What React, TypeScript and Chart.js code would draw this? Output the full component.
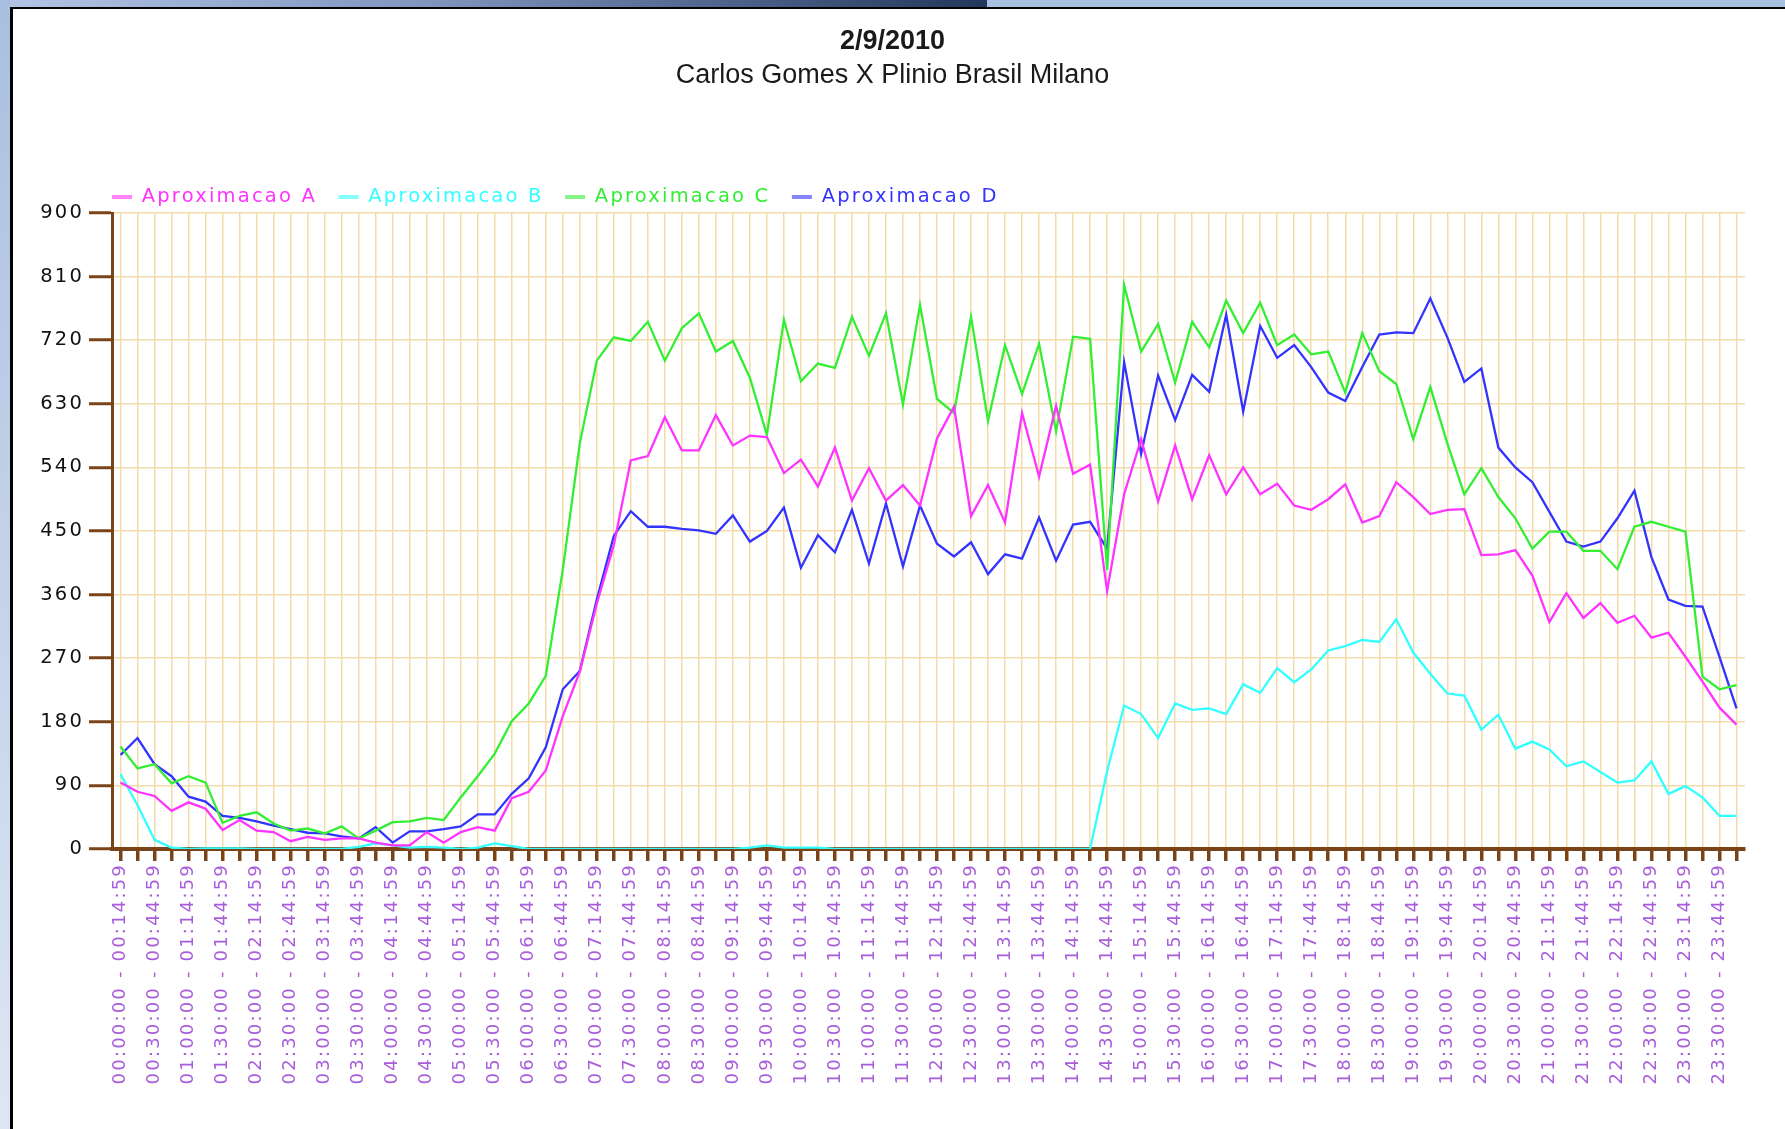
import React, { useEffect, useRef } from 'react';
import { Chart, registerables } from 'chart.js';

Chart.register(...registerables);

const TITLE = '2/9/2010';
const SUBTITLE = 'Carlos Gomes X Plinio Brasil Milano';

const SERIES_NAMES = ['Aproximacao A', 'Aproximacao B', 'Aproximacao C', 'Aproximacao D'];
const SERIES_COLORS = ['#ff33ff', '#33ffff', '#33ee33', '#3333ff'];
const LEGEND_MARK_COLORS = ['rgba(255,51,255,0.6)', 'rgba(51,255,255,0.6)', 'rgba(51,238,51,0.6)', 'rgba(51,51,255,0.6)'];

const Y_MIN = 0;
const Y_MAX = 900;
const Y_STEP = 90;

const SLOTS = [
  '00:00:00 - 00:14:59', '00:15:00 - 00:29:59', '00:30:00 - 00:44:59', '00:45:00 - 00:59:59',
  '01:00:00 - 01:14:59', '01:15:00 - 01:29:59', '01:30:00 - 01:44:59', '01:45:00 - 01:59:59',
  '02:00:00 - 02:14:59', '02:15:00 - 02:29:59', '02:30:00 - 02:44:59', '02:45:00 - 02:59:59',
  '03:00:00 - 03:14:59', '03:15:00 - 03:29:59', '03:30:00 - 03:44:59', '03:45:00 - 03:59:59',
  '04:00:00 - 04:14:59', '04:15:00 - 04:29:59', '04:30:00 - 04:44:59', '04:45:00 - 04:59:59',
  '05:00:00 - 05:14:59', '05:15:00 - 05:29:59', '05:30:00 - 05:44:59', '05:45:00 - 05:59:59',
  '06:00:00 - 06:14:59', '06:15:00 - 06:29:59', '06:30:00 - 06:44:59', '06:45:00 - 06:59:59',
  '07:00:00 - 07:14:59', '07:15:00 - 07:29:59', '07:30:00 - 07:44:59', '07:45:00 - 07:59:59',
  '08:00:00 - 08:14:59', '08:15:00 - 08:29:59', '08:30:00 - 08:44:59', '08:45:00 - 08:59:59',
  '09:00:00 - 09:14:59', '09:15:00 - 09:29:59', '09:30:00 - 09:44:59', '09:45:00 - 09:59:59',
  '10:00:00 - 10:14:59', '10:15:00 - 10:29:59', '10:30:00 - 10:44:59', '10:45:00 - 10:59:59',
  '11:00:00 - 11:14:59', '11:15:00 - 11:29:59', '11:30:00 - 11:44:59', '11:45:00 - 11:59:59',
  '12:00:00 - 12:14:59', '12:15:00 - 12:29:59', '12:30:00 - 12:44:59', '12:45:00 - 12:59:59',
  '13:00:00 - 13:14:59', '13:15:00 - 13:29:59', '13:30:00 - 13:44:59', '13:45:00 - 13:59:59',
  '14:00:00 - 14:14:59', '14:15:00 - 14:29:59', '14:30:00 - 14:44:59', '14:45:00 - 14:59:59',
  '15:00:00 - 15:14:59', '15:15:00 - 15:29:59', '15:30:00 - 15:44:59', '15:45:00 - 15:59:59',
  '16:00:00 - 16:14:59', '16:15:00 - 16:29:59', '16:30:00 - 16:44:59', '16:45:00 - 16:59:59',
  '17:00:00 - 17:14:59', '17:15:00 - 17:29:59', '17:30:00 - 17:44:59', '17:45:00 - 17:59:59',
  '18:00:00 - 18:14:59', '18:15:00 - 18:29:59', '18:30:00 - 18:44:59', '18:45:00 - 18:59:59',
  '19:00:00 - 19:14:59', '19:15:00 - 19:29:59', '19:30:00 - 19:44:59', '19:45:00 - 19:59:59',
  '20:00:00 - 20:14:59', '20:15:00 - 20:29:59', '20:30:00 - 20:44:59', '20:45:00 - 20:59:59',
  '21:00:00 - 21:14:59', '21:15:00 - 21:29:59', '21:30:00 - 21:44:59', '21:45:00 - 21:59:59',
  '22:00:00 - 22:14:59', '22:15:00 - 22:29:59', '22:30:00 - 22:44:59', '22:45:00 - 22:59:59',
  '23:00:00 - 23:14:59', '23:15:00 - 23:29:59', '23:30:00 - 23:44:59', '23:45:00 - 23:59:59',
];

const APROX_A = [
  94, 81, 75, 54, 66, 57, 27, 41, 26, 24,
  11, 17, 13, 15, 15, 9, 5, 5, 24, 9,
  24, 31, 26, 72, 81, 111, 188, 251, 347, 430,
  550, 556, 611, 564, 564, 614, 571, 585, 583, 532,
  551, 513, 568, 493, 539, 493, 515, 486, 581, 626,
  471, 515, 462, 617, 527, 627, 531, 544, 365, 502,
  580, 492, 571, 495, 557, 502, 540, 502, 517, 486,
  480, 495, 516, 462, 471, 519, 498, 474, 480, 481,
  416, 417, 423, 387, 321, 362, 327, 348, 320, 330,
  299, 306, 272, 237, 200, 176,
];

const APROX_B = [
  106, 62, 13, 2, 0, 1, 1, 1, 0, 0,
  0, 0, 0, 0, 3, 8, 5, 2, 3, 2,
  0, 2, 8, 4, 0, 0, 0, 0, 0, 0,
  0, 0, 0, 0, 0, 0, 0, 2, 5, 2,
  2, 2, 0, 0, 0, 0, 0, 0, 0, 0,
  0, 0, 0, 0, 0, 0, 0, 0, 110, 203,
  191, 157, 206, 197, 199, 191, 233, 221, 256, 236,
  254, 281, 287, 296, 293, 325, 278, 248, 220, 217,
  169, 190, 142, 152, 141, 117, 124, 109, 94, 97,
  124, 78, 89, 73, 47, 47,
];

const APROX_C = [
  145, 114, 120, 93, 103, 94, 37, 47, 52, 36,
  26, 29, 22, 32, 15, 26, 38, 39, 44, 41,
  73, 103, 135, 181, 206, 245, 395, 574, 691, 724,
  719, 746, 691, 737, 758, 704, 719, 667, 586, 749,
  662, 687, 681, 753, 698, 758, 629, 770, 637, 617,
  753, 606, 713, 644, 715, 591, 725, 722, 395, 798,
  704, 743, 660, 746, 710, 776, 730, 773, 713, 728,
  700, 704, 646, 730, 676, 658, 580, 654, 574, 502,
  539, 498, 468, 425, 449, 449, 422, 422, 396, 456,
  463, 456, 449, 244, 226, 232,
];

const APROX_D = [
  133, 157, 120, 103, 74, 67, 47, 44, 39, 33,
  28, 23, 22, 18, 15, 31, 9, 25, 25, 28,
  32, 49, 49, 78, 100, 144, 226, 252, 353, 443,
  478, 456, 456, 453, 451, 446, 472, 435, 450, 483,
  398, 444, 420, 480, 404, 489, 400, 486, 432, 414,
  434, 389, 417, 411, 469, 408, 459, 463, 425, 689,
  559, 670, 607, 671, 647, 756, 619, 740, 695, 713,
  682, 646, 634, 682, 728, 731, 730, 779, 724, 661,
  680, 568, 540, 519, 477, 435, 428, 435, 468, 507,
  413, 353, 344, 343, 272, 199,
];

const SERIES = [APROX_A, APROX_B, APROX_C, APROX_D];

const W = 1785;
const H = 1129;
const PLOT_LEFT = 112;
const PLOT_RIGHT = 1745;
const PLOT_TOP = 213;
const PLOT_BOTTOM = 849;
const LEGEND_FONT = 19.5;
const LEGEND_PAD = 21.5;
const LEGEND_CENTER = 197;
const SPACING = '2.2px';

const BROWN = '#7a4418';
const GRID = '#f3dcaa';
const PURPLE = '#a85ddb';
const FONT = '"DejaVu Sans", Verdana, sans-serif';

export default function App() {
  const ref = useRef<HTMLCanvasElement | null>(null);

  useEffect(() => {
    const canvas = ref.current;
    if (!canvas) return;

    const spacingPlugin = {
      id: 'spacing',
      beforeUpdate(chart: any) { chart.ctx.letterSpacing = SPACING; },
      beforeLayout(chart: any) { chart.ctx.letterSpacing = SPACING; },
      afterLayout(chart: any) {
        const l = chart.legend;
        if (l) {
          const dy = LEGEND_CENTER - (l.top + LEGEND_PAD + LEGEND_FONT / 2);
          l.top += dy;
          l.bottom += dy;
          const dx = PLOT_LEFT - (l.left + LEGEND_PAD);
          l.left += dx;
          l.right += dx;
        }
      },
      beforeDraw(chart: any) { chart.ctx.letterSpacing = SPACING; },
    };

    const titlePlugin = {
      id: 'titles',
      afterDraw(chart: any) {
        const ctx = chart.ctx;
        ctx.save();
        ctx.letterSpacing = '0px';
        ctx.fillStyle = '#1a1a1a';
        ctx.textAlign = 'center';
        ctx.textBaseline = 'middle';
        ctx.font = 'bold 27px "Liberation Sans", Arial, sans-serif';
        ctx.fillText(TITLE, chart.width / 2, 42);
        ctx.font = '27px "Liberation Sans", Arial, sans-serif';
        ctx.fillText(SUBTITLE, chart.width / 2, 76);
        ctx.restore();
      },
    };

    const legendHeight = LEGEND_FONT + LEGEND_PAD + 10;

    const chart = new Chart(canvas, {
      type: 'line',
      data: {
        labels: SLOTS,
        datasets: SERIES.map((values, i) => ({
          label: SERIES_NAMES[i],
          data: values,
          borderColor: SERIES_COLORS[i],
          backgroundColor: SERIES_COLORS[i],
          borderWidth: 2.3,
          pointRadius: 0,
          pointHoverRadius: 0,
          tension: 0,
          fill: false,
        })),
      },
      options: {
        responsive: false,
        animation: false,
        devicePixelRatio: 1,
        events: [],
        layout: {
          padding: {
            left: 0,
            right: W - PLOT_RIGHT,
            top: PLOT_TOP - legendHeight,
            bottom: 0,
          },
        },
        plugins: {
          tooltip: { enabled: false },
          title: { display: false },
          legend: {
            display: true,
            position: 'top',
            align: 'start',
            labels: {
              boxWidth: 20,
              boxHeight: 4,
              padding: LEGEND_PAD,
              font: { family: FONT, size: LEGEND_FONT },
              generateLabels(ch: any) {
                const items = (Chart as any).defaults.plugins.legend.labels.generateLabels(ch);
                items.forEach((it: any, i: number) => {
                  it.fontColor = SERIES_COLORS[i];
                  it.fillStyle = LEGEND_MARK_COLORS[i];
                  it.strokeStyle = LEGEND_MARK_COLORS[i];
                  it.lineWidth = 0;
                });
                return items;
              },
            },
          },
        },
        scales: {
          x: {
            type: 'category',
            offset: true,
            afterFit(scale: any) { scale.height = H - PLOT_BOTTOM; },
            grid: {
              color: GRID,
              lineWidth: 1.5,
              tickColor: BROWN,
              tickWidth: 3.5,
              tickLength: 12,
              drawTicks: true,
              offset: false,
            },
            border: { color: BROWN, width: 4 },
            ticks: {
              autoSkip: false,
              maxRotation: 90,
              minRotation: 90,
              padding: 2,
              color: PURPLE,
              font: { family: FONT, size: 18 },
              callback: (_v: any, i: number) => (i % 2 === 0 ? SLOTS[i] : ''),
            },
          },
          y: {
            min: Y_MIN,
            max: Y_MAX,
            afterFit(scale: any) { scale.width = PLOT_LEFT; },
            grid: {
              color: GRID,
              lineWidth: 1.5,
              tickColor: BROWN,
              tickWidth: 3,
              tickLength: 23,
            },
            border: { color: BROWN, width: 3 },
            ticks: {
              stepSize: Y_STEP,
              padding: 5,
              color: '#111111',
              font: { family: FONT, size: 19.5 },
            },
          },
        },
      },
      plugins: [spacingPlugin, titlePlugin],
    } as any);

    return () => chart.destroy();
  }, []);

  return (
    <div style={{ position: 'absolute', left: 0, top: 0, width: W, height: H, background: '#ffffff', overflow: 'hidden' }}>
      <div style={{ position: 'absolute', left: 0, top: 0, width: W, height: 7, background: 'linear-gradient(to right, #b2c5e5 0px, #7d93bd 450px, #22375b 987px, #a9c1e1 987px, #a9c1e1 100%)' }} />
      <div style={{ position: 'absolute', left: 0, top: 0, width: 10, height: H, background: 'linear-gradient(to bottom, #aabfdf, #dde6f4)' }} />
      <div style={{ position: 'absolute', left: 10, top: 7, width: W - 10, height: 2, background: '#000' }} />
      <div style={{ position: 'absolute', left: 10, top: 7, width: 3, height: H - 7, background: '#000' }} />
      <canvas
        ref={ref}
        width={W}
        height={H}
        style={{ position: 'absolute', left: 0, top: 0, width: W, height: H }}
      />
    </div>
  );
}
